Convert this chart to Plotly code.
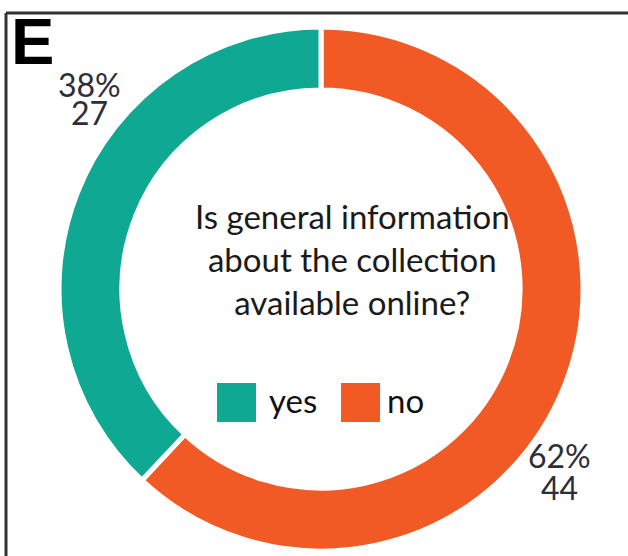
import plotly.graph_objects as go

categories = ["yes", "no"]
counts = [27, 44]
percents = ["38%", "62%"]
colors = ["#0fa892", "#f15a24"]
question = "Is general information<br>about the collection<br>available online?"
panel_label = "E"

W, H = 628, 556
cx, cy, R = 321, 289, 262

# pie drawn "no" first going clockwise from 12 o'clock, as in the reference
fig = go.Figure(go.Pie(
    labels=categories[::-1],
    values=counts[::-1],
    hole=0.76,
    sort=False,
    direction="clockwise",
    rotation=0,
    marker=dict(colors=colors[::-1], line=dict(color="white", width=5)),
    textinfo="none",
    hoverinfo="label+value+percent",
    showlegend=False,
    domain=dict(x=[(cx - R) / W, (cx + R) / W],
                y=[(H - cy - R) / H, (H - cy + R) / H]),
))

font = "Lato, Open Sans, sans-serif"
ann = []


def add_text(x, y, text, size, color, xanchor="center", family=font, height=None):
    a = dict(x=x / W, y=1 - y / H, xref="paper", yref="paper",
             text=text, showarrow=False, xanchor=xanchor, yanchor="middle",
             font=dict(family=family, size=size, color=color))
    if height:
        a["height"] = height
    ann.append(a)


add_text(352, 259, question, 33, "#1a1a1a")
add_text(89, 84, percents[0], 32, "#2e2e38", height=26)
add_text(89, 112, str(counts[0]), 32, "#2e2e38", height=26)
add_text(559, 455, percents[1], 32, "#2e2e38", height=28)
add_text(559, 487, str(counts[1]), 32, "#2e2e38", height=28)
add_text(9, 42, f"<b>{panel_label}</b>", 65, "black", xanchor="left",
         family="Liberation Sans, Arial, sans-serif")

# legend
shapes = []
leg = [(217, 267), (341, 385)]
for (sx, tx), c, lab in zip(leg, colors, categories):
    shapes.append(dict(type="rect", xref="paper", yref="paper",
                       x0=sx / W, x1=(sx + 39) / W, y0=1 - 422 / H, y1=1 - 383 / H,
                       fillcolor=c, line=dict(width=0)))
    add_text(tx, 400, lab, 33, "#111", xanchor="left")

# frame lines (top, left)
shapes.append(dict(type="line", xref="paper", yref="paper",
                   x0=6 / W, x1=1, y0=1 - 13 / H, y1=1 - 13 / H,
                   line=dict(color="#333", width=3)))
shapes.append(dict(type="line", xref="paper", yref="paper",
                   x0=6 / W, x1=6 / W, y0=0, y1=1 - 13 / H,
                   line=dict(color="#333", width=3)))

fig.update_layout(width=W, height=H, margin=dict(l=0, r=0, t=0, b=0),
                  paper_bgcolor="white", plot_bgcolor="white",
                  annotations=ann, shapes=shapes)
fig.write_html("out.html", config={"displayModeBar": False},
               post_script="document.body.style.margin='0';")
